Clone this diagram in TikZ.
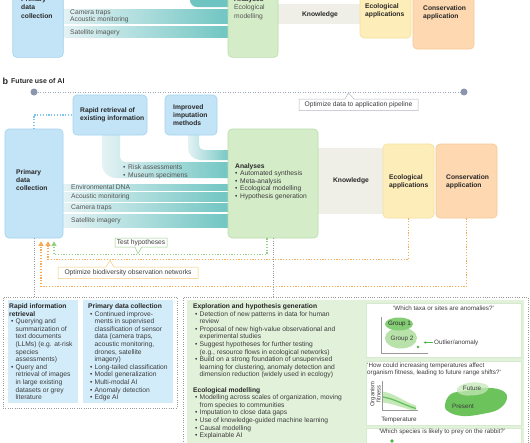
\documentclass[tikz,border=0pt]{standalone}
\usepackage{fontspec}
\setmainfont{Liberation Sans}
\usetikzlibrary{arrows.meta,shapes.geometric}

\definecolor{bluebox}{HTML}{C3E4F7}
\definecolor{blueedge}{HTML}{A3D3EF}
\definecolor{greenbox}{HTML}{D5ECC9}
\definecolor{greenedge}{HTML}{BBDDAD}
\definecolor{knowc}{HTML}{EFEFE8}
\definecolor{yellowbox}{HTML}{FDEDB8}
\definecolor{yellowedge}{HTML}{F6DF9E}
\definecolor{orangebox}{HTML}{FDD8B0}
\definecolor{orangeedge}{HTML}{F7C897}
\definecolor{bandL}{HTML}{E4F2F4}
\definecolor{bandR}{HTML}{6FC5C2}
\definecolor{tealtop}{HTML}{6EC4C0}
\definecolor{txt}{HTML}{3C3C3C}
\definecolor{hd}{HTML}{262626}
\definecolor{txtg}{HTML}{555555}
\definecolor{dotgray}{HTML}{999999}
\definecolor{dotgreen}{HTML}{94CF83}
\definecolor{dotorange}{HTML}{F6AA55}
\definecolor{dotblue}{HTML}{82C5EC}
\definecolor{circc}{HTML}{8A96AE}
\definecolor{calgray}{HTML}{B4B8C0}
\definecolor{calorange}{HTML}{F4C874}
\definecolor{lowblue}{HTML}{D3ECF9}
\definecolor{lowgreen}{HTML}{E2F1DA}
\definecolor{panedge}{HTML}{D6EBCD}
\definecolor{gonec}{HTML}{86CE76}
\definecolor{gtwoc}{HTML}{B8E2AA}
\definecolor{outc}{HTML}{4DB34A}
\definecolor{presc}{HTML}{6CC25B}
\definecolor{futc}{HTML}{C4E8B6}
\definecolor{bandg}{HTML}{C5E8B8}
\definecolor{curveg}{HTML}{5FBF5A}

\newcommand\myfs{\fontsize{6.7}{7.6}\selectfont}
\newcommand\mytfs{\fontsize{6.7}{8.3}\selectfont}
\newcommand\mypfs{\fontsize{6.3}{7.3}\selectfont}
\newcommand\mystrut{\rule{0pt}{4.8pt}}
\newcommand\mybu{\makebox[5pt][l]{\textbullet}}
\newcommand\mylb{\hspace*{2pt}\makebox[4.5pt][l]{\textbullet}}
\newcommand\mylc{\hspace*{6.5pt}}

\tikzset{
  mybox/.style={draw, line width=0.6pt, rounded corners=4pt, inner sep=0pt},
  txtnode/.style={inner sep=0pt, anchor=north west, align=left, text=txt, font=\myfs},
  ttlnode/.style={inner sep=0pt, anchor=north west, align=left, text=hd, font=\mytfs\bfseries},
  lblnode/.style={inner sep=0pt, anchor=base west, text=txtg, font=\myfs},
  flowband/.style={left color=bandL, right color=bandR},
  gdot/.style={draw=dotgray, line width=0.6pt, dash pattern=on 0.8pt off 1.5pt},
  dotl/.style={line width=1.2pt, dash pattern=on 1.2pt off 1.6pt},
  tipa/.style={-{Triangle[width=5pt,length=4.5pt]}},
  callout/.style={fill=white, line width=0.5pt},
  pannode/.style={inner sep=0pt, text=txt, font=\mypfs},
}

\begin{document}
\begin{tikzpicture}[x=1pt,y=-1pt]
\useasboundingbox (0,0) rectangle (530,442);
\clip (0,0) rectangle (530,442);
\fill[white] (0,0) rectangle (530,442);

% ================= section a (cropped) =================
\fill[tealtop] (190,-6) -- (190,0) .. controls (190,4) and (193,7) .. (197,7) -- (230,7) -- (230,-6) -- cycle;
\shade[flowband] (63,9) rectangle (230,15);
\shade[flowband] (63,16) rectangle (230,23);
\shade[flowband] (63,26) rectangle (230,37.3);
\fill[knowc] (277,4) rectangle (361,23.5);
\node[mybox, fill=bluebox, draw=blueedge, minimum width=50.5pt, minimum height=70pt] (pdcA) at (38,22.3) {};
\node[mybox, fill=greenbox, draw=greenedge, minimum width=50pt, minimum height=70pt] (anaA) at (253,22.3) {};
\node[mybox, fill=yellowbox, draw=yellowedge, minimum width=51pt, minimum height=51pt] (ecoA) at (385.5,12.5) {};
\node[mybox, fill=orangebox, draw=orangeedge, minimum width=61pt, minimum height=62pt] (consA) at (443.5,18) {};

\node[ttlnode] (pdcAt) at (21,-3.6) {\mystrut Primary\\data\\collection};
\node[txtnode, font=\mytfs, text=txtg] (anaAt) at (234,-3.6) {\mystrut\textbf{\color{hd}Analyses}\\Ecological\\modelling};
\node[inner sep=0pt, font=\myfs\bfseries, text=hd] (knowAt) at (320,14.3) {Knowledge};
\node[ttlnode] (ecoAt) at (365,3.1) {\mystrut Ecological\\applications};
\node[ttlnode] (consAt) at (423,5.5) {\mystrut Conservation\\application};
\node[lblnode] (camA) at (70,14.2) {Camera traps};
\node[lblnode] (acoA) at (70,21.7) {Acoustic monitoring};
\node[lblnode] (satA) at (70,34) {Satellite imagery};

% ================= section b =================
\node[inner sep=0pt, anchor=base west, font=\fontsize{9}{10}\selectfont\bfseries, text=hd] (blab) at (2.5,84.3) {b};
\node[inner sep=0pt, anchor=base west, font=\fontsize{7}{8}\selectfont\bfseries, text=hd] (btitle) at (11,83.8) {Future use of AI};

\node[circle, fill=circc, minimum size=7pt, inner sep=0pt] (c1) at (34,92) {};
\node[circle, fill=circc, minimum size=7pt, inner sep=0pt] (c2) at (464,92) {};
\draw[draw=circc!85, line width=0.7pt, dash pattern=on 1pt off 1.5pt] (c1) -- (c2);

\draw[callout, draw=calgray] (299,99) -- (345,99) -- (348.5,93) -- (354,99) -- (418,99) -- (418,110.5) -- (299,110.5) -- cycle;
\node[inner sep=0pt, font=\myfs, text=txt] (optA) at (358.5,104.9) {Optimize data to application pipeline};

% flow bands
\shade[flowband] (102,134) -- (102,164) .. controls (102,171.7) and (108.3,178) .. (116,178) -- (231,178) -- (231,162) -- (125,162) .. controls (122.2,162) and (120,159.8) .. (120,157) -- (120,134) -- cycle;
\shade[flowband] (188,134) -- (188,148) .. controls (188,154.6) and (193.4,160) .. (200,160) -- (231,160) -- (231,150) -- (204,150) .. controls (201.2,150) and (199,147.8) .. (199,145) -- (199,134) -- cycle;
\shade[flowband] (63,184) rectangle (231,190);
\shade[flowband] (63,192) rectangle (231,201);
\shade[flowband] (63,203) rectangle (231,211);
\shade[flowband] (63,214) rectangle (231,227);
\fill[knowc] (316,148) rectangle (385,214);

% boxes
\node[mybox, fill=bluebox, draw=blueedge, minimum width=58pt, minimum height=109pt] (pdc) at (34,183.5) {};
\node[mybox, fill=bluebox, draw=blueedge, minimum width=74pt, minimum height=40pt] (rapid) at (110,115) {};
\node[mybox, fill=bluebox, draw=blueedge, minimum width=52pt, minimum height=40pt] (imp) at (191,115) {};
\node[mybox, fill=greenbox, draw=greenedge, minimum width=90pt, minimum height=109pt] (ana) at (273,183.5) {};
\node[mybox, fill=yellowbox, draw=yellowedge, minimum width=51pt, minimum height=74pt] (eco) at (408.5,181) {};
\node[mybox, fill=orangebox, draw=orangeedge, minimum width=61pt, minimum height=74pt] (cons) at (466.5,181) {};

% box texts
\node[ttlnode] (rapidt) at (80,107.4) {\mystrut Rapid retrieval of\\existing information};
\node[ttlnode] (impt) at (173,104.1) {\mystrut Improved\\imputation\\methods};
\node[ttlnode] (pdct) at (16,169.1) {\mystrut Primary\\data\\collection};
\node[txtnode, font=\fontsize{6.7}{7.5}\selectfont] (anat) at (235,163.4) {\mystrut\textbf{\color{hd}Analyses}\\\mybu Automated synthesis\\\mybu Meta-analysis\\\mybu Ecological modelling\\\mybu Hypothesis generation};
\node[inner sep=0pt, font=\myfs\bfseries, text=hd] (knowt) at (351,180.5) {Knowledge};
\node[ttlnode] (ecot) at (389,174.1) {\mystrut Ecological\\applications};
\node[ttlnode] (const) at (446,174.1) {\mystrut Conservation\\application};
\node[txtnode, text=txtg, font=\fontsize{6.7}{7.7}\selectfont] (riskt) at (123,164.7) {\mystrut\mybu Risk assessments\\\mybu Museum specimens};
\node[lblnode] (edna) at (71,189.2) {Environmental DNA};
\node[lblnode] (acou) at (71,198.8) {Acoustic monitoring};
\node[lblnode] (camt) at (71,209.3) {Camera traps};
\node[lblnode] (satl) at (71,222.8) {Satellite imagery};

% lower panels
\node[gdot, minimum width=174pt, minimum height=111pt, inner sep=0pt] (lowL) at (90,352.5) {};
\node[fill=lowblue, minimum width=70pt, minimum height=103pt, inner sep=0pt] (lb1) at (43,351.5) {};
\node[fill=lowblue, minimum width=90pt, minimum height=103pt, inner sep=0pt] (lb2) at (128,351.5) {};
\node[gdot, minimum width=345pt, minimum height=160pt, inner sep=0pt] (lowR) at (355.5,377) {};
\node[fill=lowgreen, minimum width=337pt, minimum height=160pt, inner sep=0pt] (lg) at (355.5,380) {};
\node[fill=white, draw=panedge, line width=0.5pt, minimum width=155pt, minimum height=54pt, inner sep=0pt] (p1) at (443.5,330) {};
\node[fill=white, draw=panedge, line width=0.5pt, minimum width=155pt, minimum height=64pt, inner sep=0pt] (p2) at (443.5,393) {};
\node[fill=white, draw=panedge, line width=0.5pt, minimum width=155pt, minimum height=28pt, inner sep=0pt] (p3) at (443.5,442) {};

% connectors
\draw[dotl, draw=dotblue] (pdc.north) |- (rapid.west);
\draw[gdot] (pdc.south) -- (pdc.south |- lowL.north);
\draw[gdot] (ana.south) -- (ana.south |- lowR.north);
\draw[dotl, draw=dotgreen, tipa] ([xshift=-6pt]ana.south) -- ++(0,16) -| ([xshift=20pt,yshift=-3pt]pdc.south);
\draw[dotl, draw=dotorange, tipa] (eco.south) -- ++(0,41) -| ([xshift=14pt,yshift=-3pt]pdc.south);
\draw[dotl, draw=dotorange, tipa] (cons.south) -- ++(0,68) -| ([xshift=7pt,yshift=-3pt]pdc.south);

\draw[callout, draw=dotgreen] (115,238) -- (167,238) -- (167,247) -- (142,247) -- (138,253.5) -- (135,247) -- (115,247) -- cycle;
\node[inner sep=0pt, font=\myfs, text=txt] (testh) at (141,242.7) {Test hypotheses};
\draw[callout, draw=calorange] (58,267) -- (106,267) -- (110,260.3) -- (114,267) -- (198,267) -- (198,278.5) -- (58,278.5) -- cycle;
\node[inner sep=0pt, font=\myfs, text=txt] (optB) at (128,272.8) {Optimize biodiversity observation networks};

% lower texts
\node[txtnode] (l1t) at (9,303.4) {\mystrut\textbf{\color{hd}Rapid information}\\\textbf{\color{hd}retrieval}\\\mylb Querying and\\\mylc summarization of\\\mylc text documents\\\mylc (LLMs) (e.g. at-risk\\\mylc species\\\mylc assessments)\\\mylb Query and\\\mylc retrieval of images\\\mylc in large existing\\\mylc datasets or grey\\\mylc literature};
\node[txtnode] (l2t) at (88,303.4) {\mystrut\textbf{\color{hd}Primary data collection}\\\mylb Continued improve-\\\mylc ments in supervised\\\mylc classification of sensor\\\mylc data (camera traps,\\\mylc acoustic monitoring,\\\mylc drones, satellite\\\mylc imagery)\\\mylb Long-tailed classification\\\mylb Model generalization\\\mylb Multi-modal AI\\\mylb Anomaly detection\\\mylb Edge AI};
\node[txtnode] (rt) at (193,303.4) {\mystrut\textbf{\color{hd}Exploration and hypothesis generation}\\\mylb Detection of new patterns in data for human\\\mylc review\\\mylb Proposal of new high-value observational and\\\mylc experimental studies\\\mylb Suggest hypotheses for further testing\\\mylc (e.g., resource flows in ecological networks)\\\mylb Build on a strong foundation of unsupervised\\\mylc learning for clustering, anomaly detection and\\\mylc dimension reduction (widely used in ecology)\\[7.6pt]\textbf{\color{hd}Ecological modelling}\\\mylb Modelling across scales of organization, moving\\\mylc from species to communities\\\mylb Imputation to close data gaps\\\mylb Use of knowledge-guided machine learning\\\mylb Causal modelling\\\mylb Explainable AI};

% panel 1
\node[pannode] (q1) at (443.5,308.5) {‘Which taxa or sites are anomalies?’};
\draw[draw=dotgray, line width=0.5pt] (381,317) -- (381,353) -- (428,353);
\fill[gtwoc] (401,338) ellipse[x radius=16, y radius=10.5];
\fill[gonec] (399,324) ellipse[x radius=14, y radius=6.5];
\node[pannode, text=hd] (g1l) at (399.5,323.8) {Group 1};
\node[pannode] (g2l) at (402,338.5) {Group 2};
\fill[outc] (418,347) circle[radius=1.3];
\node[pannode, anchor=west] (outl) at (434,342.5) {Outlier/anomaly};
\draw[draw=outc, line width=0.6pt, -{Latex[length=2.5pt,width=2.5pt]}] ([xshift=-1.5pt]outl.west) -- ++(-9,0);

% panel 2
\node[txtnode, font=\mypfs] (q2) at (367,362.8) {\rule{0pt}{4.5pt}‘How could increasing temperatures affect\\organism fitness, leading to future range shifts?’};
\fill[bandg] (383,391.5) .. controls (395,393.5) and (405,402.5) .. (416,405.5) -- (416,411) .. controls (405,409) and (395,404) .. (383,402.5) -- cycle;
\draw[draw=curveg, line width=1.2pt] (383,397) .. controls (395,399) and (405,405.5) .. (416,408.5);
\draw[draw=dotgray, line width=0.5pt] (382,381) -- (382,410.5) -- (418,410.5);
\node[pannode, font=\fontsize{5.8}{6.2}\selectfont, rotate=90, align=center] (ylab) at (375.5,394) {Organism\\fitness};
\node[pannode] (xlab) at (399,420) {Temperature};
\fill[presc] plot[smooth cycle, tension=0.7] coordinates {(445,405) (451,394) (466,391) (484,388) (501,390) (507,398) (499,409) (482,414) (463,416) (449,412)};
\fill[futc, opacity=0.75] plot[smooth cycle, tension=0.7] coordinates {(457,389) (464,384) (477,382.5) (488,386) (484,393) (470,395.5) (460,394)};
\node[pannode] (fut) at (472,388) {Future};
\node[pannode] (pres) at (463,406) {Present};

% panel 3
\node[pannode] (q3) at (442,432) {‘Which species is likely to prey on the rabbit?’};
\fill[outc] (392,441) circle[radius=1.8];
\end{tikzpicture}
\end{document}
